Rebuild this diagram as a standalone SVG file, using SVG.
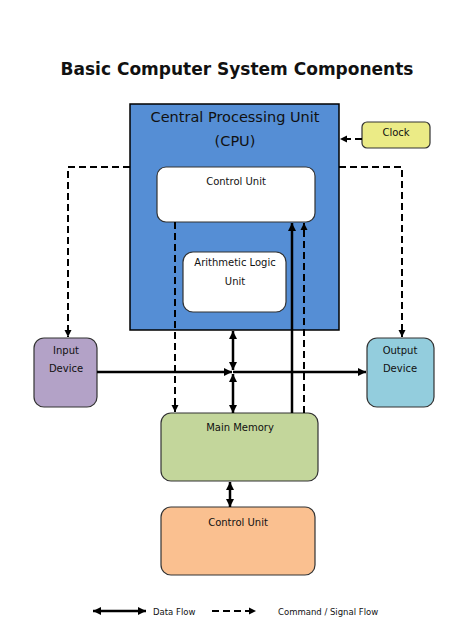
<svg xmlns="http://www.w3.org/2000/svg" width="474" height="629" viewBox="0 0 474 629">
<style>
text{font-family:"DejaVu Sans","Liberation Sans",sans-serif;fill:#111;text-anchor:middle}
.box{stroke:#333;stroke-width:1.2}
.s{fill:none;stroke:#000;stroke-width:2.5}
.d{fill:none;stroke:#000;stroke-width:2;stroke-dasharray:7 4}
.sm{font-size:10px}
</style>
<defs>
<marker id="a" markerUnits="userSpaceOnUse" markerWidth="9" markerHeight="9" refX="8" refY="4.5" orient="auto-start-reverse">
<path d="M0,0.5 L8,4.5 L0,8.5 z" fill="#000"/>
</marker>
<marker id="b" markerUnits="userSpaceOnUse" markerWidth="8" markerHeight="8" refX="7" refY="4" orient="auto-start-reverse">
<path d="M0,0.5 L7,4 L0,7.5 z" fill="#000"/>
</marker>
</defs>
<rect width="474" height="629" fill="#fff"/>
<text x="237" y="75" style="font-size:17px;font-weight:bold">Basic Computer System Components</text>

<g id="cpu">
<rect x="130" y="104" width="209" height="226" fill="#558ed5" stroke="#000" stroke-width="1.5"/>
<text x="235" y="122" style="font-size:14.5px">Central Processing Unit</text>
<text x="235" y="146" style="font-size:14.5px">(CPU)</text>
</g>
<g id="clock">
<rect class="box" x="362" y="122" width="68" height="26" rx="5" fill="#ebeb86"/>
<text class="sm" x="396" y="136">Clock</text>
</g>
<g id="control-unit">
<rect class="box" x="157" y="167" width="158" height="55" rx="9" fill="#fff"/>
<text class="sm" x="236" y="185">Control Unit</text>
</g>
<g id="alu">
<rect class="box" x="183" y="252" width="103" height="60" rx="10" fill="#fff"/>
<text class="sm" x="235" y="266">Arithmetic Logic</text>
<text class="sm" x="235" y="285">Unit</text>
</g>
<g id="input">
<rect class="box" x="34" y="338" width="63" height="69" rx="10" fill="#b3a2c7"/>
<text class="sm" x="66" y="354">Input</text>
<text class="sm" x="66" y="372">Device</text>
</g>
<g id="output">
<rect class="box" x="367" y="338" width="67" height="69" rx="10" fill="#93cddd"/>
<text class="sm" x="400" y="354">Output</text>
<text class="sm" x="400" y="372">Device</text>
</g>
<g id="main-memory">
<rect class="box" x="161" y="413" width="157" height="68" rx="10" fill="#c3d69b"/>
<text class="sm" x="240" y="431">Main Memory</text>
</g>
<g id="control-unit-2">
<rect class="box" x="161" y="507" width="154" height="68" rx="10" fill="#fac090"/>
<text class="sm" x="238" y="526">Control Unit</text>
</g>

<g id="connectors">
<path class="d" d="M362,139 H340" marker-end="url(#b)"/>
<path class="d" d="M130,167 H68 V337" marker-end="url(#b)"/>
<path class="d" d="M339,167 H402 V337" marker-end="url(#b)"/>
<path class="d" d="M175,222 V412" marker-end="url(#b)"/>
<path class="d" d="M304,413 V223" marker-end="url(#b)"/>
<path class="s" d="M292,413 V223" marker-end="url(#a)"/>
<path class="s" d="M97,372 H232" marker-end="url(#a)"/>
<path class="s" d="M233,372 H366" marker-end="url(#a)"/>
<path class="s" d="M233,331 V370" marker-start="url(#a)" marker-end="url(#a)"/>
<path class="s" d="M233,374 V413" marker-start="url(#a)" marker-end="url(#a)"/>
<path class="s" d="M230,482 V507" marker-start="url(#a)" marker-end="url(#a)"/>
</g>

<g id="legend">
<path class="s" d="M93,611 H146" marker-start="url(#a)" marker-end="url(#a)"/>
<text x="153" y="615" style="font-size:8.5px;text-anchor:start">Data Flow</text>
<path class="d" d="M212,611 H256" marker-end="url(#b)"/>
<text x="278" y="615" style="font-size:8.5px;text-anchor:start">Command / Signal Flow</text>
</g>
</svg>
